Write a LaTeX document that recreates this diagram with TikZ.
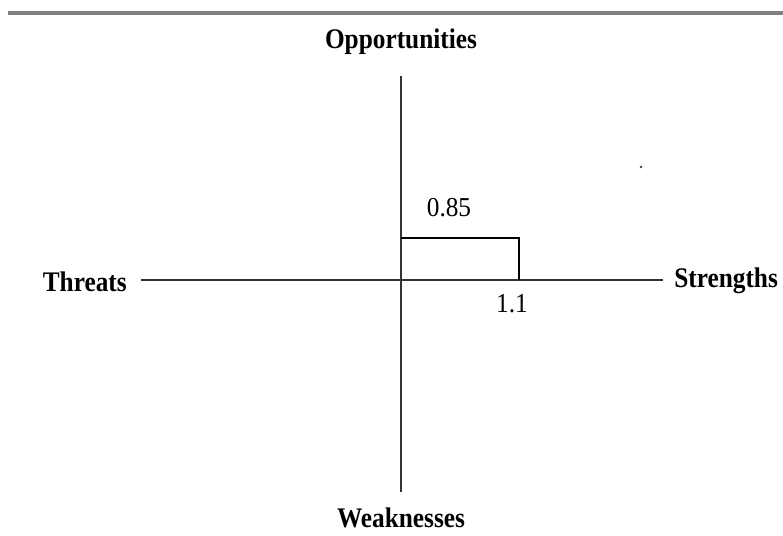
\documentclass[tikz,border=0pt]{standalone}
\usepackage{fontspec}
\setmainfont{Liberation Serif}

\begin{document}
\begin{tikzpicture}[x=0.025cm, y=-0.025cm,
  axis/.style={draw=black!80, line width=1.4pt},
  lbl/.style={font=\fontsize{18}{20}\selectfont\bfseries, inner sep=0pt, yscale=1.12, transform shape},
  num/.style={font=\fontsize{18}{20}\selectfont, inner sep=0pt, yscale=1.08, transform shape}]

\useasboundingbox (0,0) rectangle (783,535);

%\draw[step=20, gray!30] (0,0) grid (783,535);

% rule at the top
\draw[black!50, line width=2.4pt] (8,13)--(783,13);

\coordinate (o) at (401,280);
\coordinate (n) at (401,76);
\coordinate (s) at (401,492);
\coordinate (w) at (141,280);
\coordinate (e) at (663,280);
\coordinate (c) at (519,238);

\draw[axis] (w)--(e);
\draw[axis] (n)--(s);
\draw[black, line width=1pt] (o |- c)--(c)--(c |- o);

\node[lbl] (opp) at (401,42) {Opportunities};
\node[lbl] (weak) at (401,518) {Weaknesses};
\node[lbl, anchor=east] (thr) at (127,282) {Threats};
\node[lbl, anchor=west] (str) at (674,281) {Strengths};

\node[num] (v1) at (449,208) {0.85};
\node[num] (v2) at (512,304) {1.1};

\fill[black!75] (641,167) circle (1.3);

\end{tikzpicture}
\end{document}
